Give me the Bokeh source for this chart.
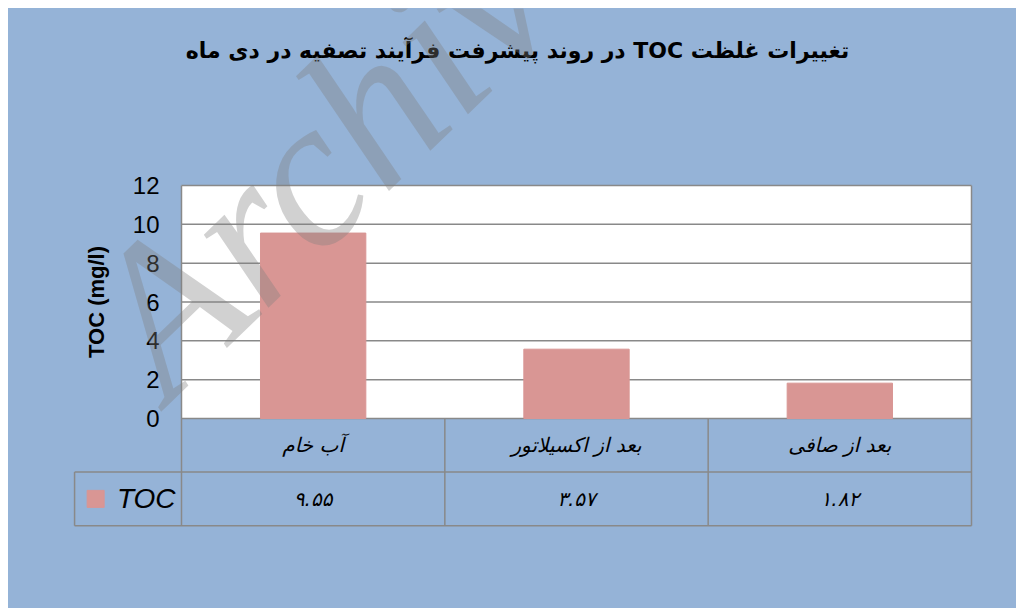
import math
from bokeh.plotting import figure
from bokeh.models import Range1d, Label, FixedTicker
from bokeh.embed import file_html
from bokeh.resources import INLINE

# ---- data ----
categories = ["آب خام", "بعد از اکسیلاتور", "بعد از صافی"]
toc_values = [9.55, 3.57, 1.82]
series_name = "TOC"
y_ticks = [0, 2, 4, 6, 8, 10, 12]
title_text = "تغییرات غلظت TOC در روند پیشرفت فرآیند تصفیه در دی ماه"
y_label = "TOC (mg/l)"
watermark = "Archive"

BG = "#95B3D7"
BAR = "#D99694"
LINE = "#898989"

FA = str.maketrans("0123456789", "۰۱۲۳۴۵۶۷۸۹")


def fa(v):
    return f"{v:.2f}".translate(FA)


n = len(categories)
y_max = y_ticks[-1]
ROW = 2.76            # height of a data-table row, in y units
LEFT = -0.406         # left edge of the legend cell, in category widths

# the frame fills the whole figure (except the y-axis panel) so that
# annotations placed around the chart are not clipped
p = figure(width=1008, height=600,
           x_range=Range1d(-0.42911, n + 0.17089),
           y_range=Range1d(-9.7854, 21.1159),
           x_axis_location=None,
           output_backend="svg", toolbar_location=None,
           min_border_left=60, min_border_right=0,
           min_border_top=0, min_border_bottom=0,
           margin=(8, 0, 0, 8))
p.styles = {"background-color": BG}
p.border_fill_color = BG
p.background_fill_color = BG
p.outline_line_color = None
p.grid.grid_line_color = None

# plot area
p.quad(left=[0], right=[n], bottom=[0], top=[y_max], color="white", line_color=None)
p.segment(x0=[0] * len(y_ticks), x1=[n] * len(y_ticks), y0=y_ticks, y1=y_ticks,
          line_color=LINE, line_width=1.5)
p.vbar(x=[i + 0.5 for i in range(n)], top=toc_values, width=0.4, color=BAR)

# data-table grid
x0 = [LEFT, LEFT, 0, n, 1, 2, LEFT]
x1 = [n, n, 0, n, 1, 2, LEFT]
y0 = [-ROW, -2 * ROW, -2 * ROW, -2 * ROW, -2 * ROW, -2 * ROW, -2 * ROW]
y1 = [-ROW, -2 * ROW, y_max, y_max, 0, 0, -ROW]
p.segment(x0=x0, y0=y0, x1=x1, y1=y1, line_color=LINE, line_width=1.5)
p.scatter(x=[LEFT + 0.08], y=[-1.5 * ROW], marker="square", size=17, color=BAR)

ya = p.yaxis[0]
ya.ticker = FixedTicker(ticks=y_ticks)
ya.fixed_location = 0
ya.axis_line_color = None
ya.major_tick_line_color = None
ya.minor_tick_line_color = None
ya.major_tick_out = 0
ya.major_tick_in = 0
ya.major_label_standoff = 22
ya.major_label_text_font = "Liberation Sans"
ya.major_label_text_font_size = "24px"
ya.major_label_text_color = "black"

# texts (annotations, data units)
p.add_layout(Label(x=0, y=-1.5 * ROW, x_offset=-6, text=series_name,
                   text_align="right", text_baseline="middle",
                   text_font="Liberation Sans", text_font_style="italic",
                   text_font_size="28px", text_color="black"))
p.add_layout(Label(x=-0.322, y=y_max / 2, text=y_label, angle=math.pi / 2,
                   text_align="center", text_baseline="middle",
                   text_font="Liberation Sans", text_font_style="bold",
                   text_font_size="22px", text_color="black"))
for i, v in enumerate(toc_values):
    p.add_layout(Label(x=i + 0.5, y=-1.5 * ROW, text=fa(v),
                       text_align="center", text_baseline="middle",
                       text_font="DejaVu Sans", text_font_style="italic",
                       text_font_size="20px", text_color="black"))
for i, c in enumerate(categories):
    p.add_layout(Label(x=i + 0.5, y=-0.5 * ROW, text=c,
                       text_align="center", text_baseline="middle",
                       text_font="DejaVu Sans", text_font_style="italic",
                       text_font_size="20px", text_color="black"))
p.add_layout(Label(x=1.276, y=18.95, text="\u202b" + title_text + "\u202c",
                   text_align="center", text_baseline="middle",
                   text_font="DejaVu Sans", text_font_style="bold",
                   text_font_size="22px", text_color="black"))
p.add_layout(Label(x=-0.235, y=3.4, text=watermark, angle=0.77,
                   text_align="left", text_baseline="alphabetic",
                   text_font="Liberation Serif", text_font_style="italic",
                   text_font_size="212px", text_color="#808080", text_alpha=0.36))

open("out.html", "w").write(file_html(p, INLINE))
